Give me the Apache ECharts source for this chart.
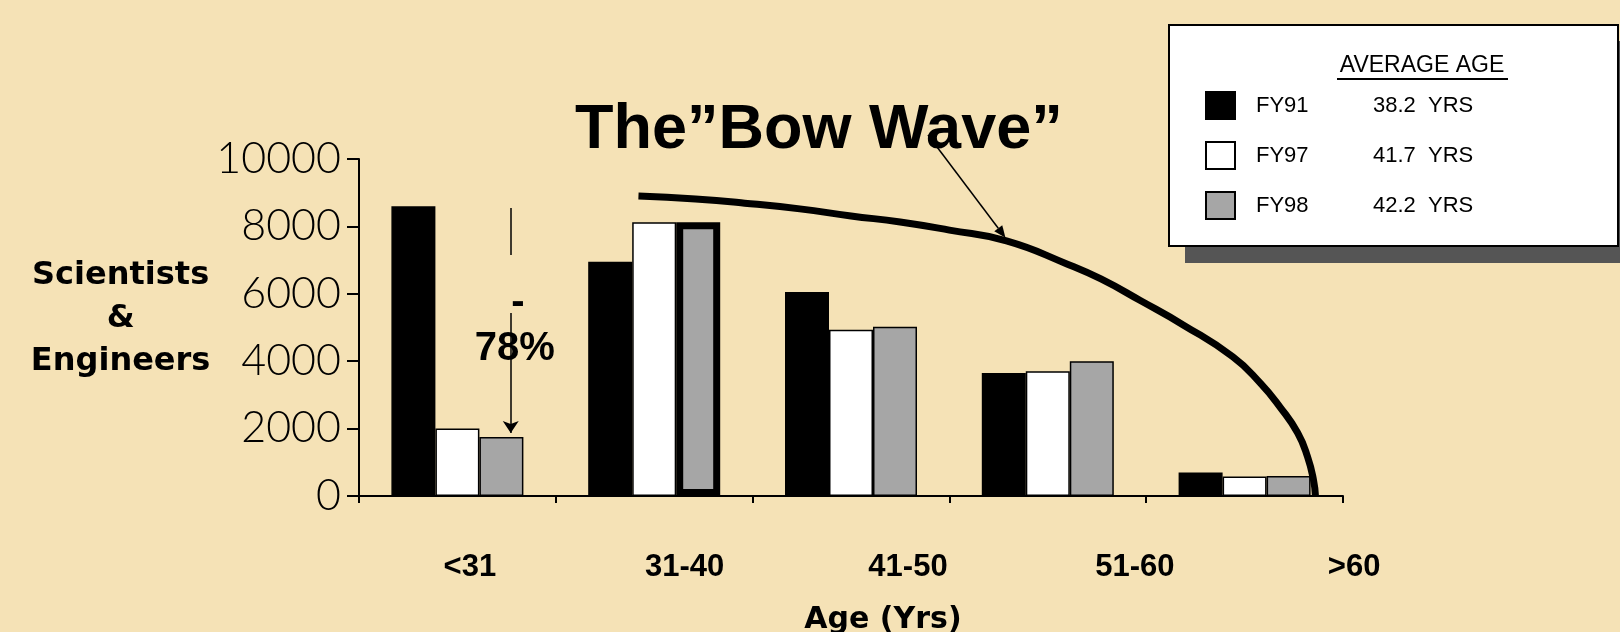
<!DOCTYPE html>
<html>
<head>
<meta charset="utf-8">
<script src="https://cdn.jsdelivr.net/npm/echarts@6/dist/echarts.min.js"></script>
<style>
  html, body { margin: 0; padding: 0; background: #F5E2B6; }
  #chart { width: 1620px; height: 632px; }
</style>
</head>
<body>
<div id="chart"></div>
<script>
// Age bands of the scientist & engineer workforce
const categories = ['<31', '31-40', '41-50', '51-60', '>60'];
const seriesNames = ['FY91', 'FY97', 'FY98'];
const averageAge = [38.2, 41.7, 42.2];

// Head counts per age band
const fy91 = [8600, 6950, 6050, 3650, 700];
const fy97 = [2000, 8120, 4930, 3700, 580];
const fy98 = [1750, 8120, 5020, 4000, 590];

// The "bow wave" curve, x in age-band units (0 = left edge of first band), y in head count
const bowWave = [
  [1.42, 8900], [1.71, 8810], [1.96, 8690], [2.24, 8520], [2.50, 8310],
  [2.75, 8130], [3.00, 7890], [3.29, 7570], [3.60, 6880], [3.77, 6440],
  [3.97, 5800], [4.19, 5070], [4.44, 4130], [4.58, 3350], [4.68, 2640],
  [4.77, 1870], [4.82, 1160], [4.85, 480], [4.86, 0]
];

const yTicks = { min: 0, max: 10000, interval: 2000 };
const yAxisTitle = ['Scientists', '&', 'Engineers'];
const dropLabel = '78%';

const chart = echarts.init(document.getElementById('chart'), null, { renderer: 'canvas', width: 1620, height: 632 });

const barColors = ['#000000', '#ffffff', '#a6a6a6'];
const barData = [fy91, fy97, fy98];

// horizontal nudges of the band labels (px)
const labelShift = [25, 61, 114, 174, 219];
const xLabelRich = {};
labelShift.forEach((p, i) => {
  xLabelRich['c' + i] = {
    fontFamily: 'Liberation Sans', fontWeight: 'bold', fontSize: 31, color: '#000',
    padding: [0, 0, 0, p]
  };
});

const barSeries = seriesNames.map((name, s) => ({
  name: name,
  type: 'bar',
  xAxisIndex: 0,
  yAxisIndex: 0,
  barWidth: 44,
  barGap: '0%',
  silent: true,
  itemStyle: { color: barColors[s], borderColor: '#000', borderWidth: 1.5 },
  data: barData[s].map((v, i) => {
    // the FY98 31-40 bar carries a heavy outline
    if (s === 2 && i === 1) {
      return { value: v, itemStyle: { borderWidth: 7, borderColor: '#000' } };
    }
    return v;
  })
}));

const option = {
  animation: false,
  backgroundColor: '#F5E2B6',
  title: {
    text: 'The\u201DBow Wave\u201D',
    left: 570, top: 94,
    textStyle: { fontFamily: 'Liberation Sans', fontWeight: 'bold', fontSize: 63, color: '#000' }
  },
  grid: { left: 359, top: 159, width: 984, height: 337, containLabel: false, outerBoundsMode: 'none' },
  legend: {
    orient: 'vertical',
    left: 1169, top: 25,
    data: seriesNames,
    icon: 'rect',
    itemWidth: 29, itemHeight: 27, itemGap: 21,
    padding: [66, 137, 32, 36],
    backgroundColor: 'transparent',
    borderWidth: 0,
    itemStyle: { borderColor: '#000', borderWidth: 2 },
    formatter: function (name) {
      const i = seriesNames.indexOf(name);
      return '{n|' + name + '}{v|' + averageAge[i].toFixed(1) + '  YRS}';
    },
    textStyle: {
      rich: {
        n: { fontFamily: 'Liberation Sans', fontSize: 22, color: '#000', width: 117, padding: [0, 0, 0, 16] },
        v: { fontFamily: 'Liberation Sans', fontSize: 22, color: '#000' }
      }
    }
  },
  xAxis: [
    {
      type: 'category',
      data: categories,
      boundaryGap: true,
      axisLine: { lineStyle: { color: '#000', width: 2 } },
      axisTick: { show: true, length: 7, lineStyle: { color: '#000', width: 2 } },
      axisLabel: {
        interval: 0, margin: 56,
        formatter: function (v, i) { return '{c' + i + '|' + v + '}'; },
        rich: xLabelRich
      },
      name: 'Age (Yrs)',
      nameLocation: 'middle',
      nameGap: 124,
      nameTextStyle: {
        fontFamily: 'DejaVu Sans', fontWeight: 'bold', fontSize: 30, color: '#000',
        align: 'center', verticalAlign: 'middle', padding: [0, 0, 0, 64]
      },
      splitLine: { show: false }
    },
    { type: 'value', min: 0, max: 5, show: false }
  ],
  yAxis: {
    type: 'value',
    min: yTicks.min, max: yTicks.max, interval: yTicks.interval,
    splitLine: { show: false },
    axisLine: { show: true, lineStyle: { color: '#000', width: 2 } },
    axisTick: { show: true, length: 12, lineStyle: { color: '#000', width: 2 } },
    axisLabel: {
      margin: 18,
      formatter: function (v) { return String(v); },
      fontFamily: 'Lato', fontWeight: 300, fontSize: 43, color: '#000',
      padding: [12, 0, 0, 0]
    },
    // three centred lines plus a short spacer line that lifts the block slightly
    name: yAxisTitle.map(t => '{a|' + t + '}').join('\n') + '\n{s| }',
    nameLocation: 'middle',
    nameRotate: 0,
    nameGap: 227,
    nameTextStyle: {
      align: 'center', verticalAlign: 'middle',
      rich: {
        a: { fontFamily: 'DejaVu Sans', fontWeight: 'bold', fontSize: 32, color: '#000', lineHeight: 43, align: 'center' },
        s: { fontSize: 8, lineHeight: 18 }
      }
    }
  },
  series: barSeries.concat([
    {
      name: 'bow wave',
      type: 'line',
      xAxisIndex: 1,
      yAxisIndex: 0,
      data: bowWave,
      smooth: 0.5,
      symbol: 'none',
      clip: false,
      silent: true,
      z: 5,
      lineStyle: { color: '#000', width: 7 },
      markLine: {
        silent: true,
        symbol: ['none', 'arrow'],
        symbolSize: 12,
        label: { show: false },
        lineStyle: { color: '#000', width: 1.5, type: 'solid' },
        data: [
          [{ coord: [0.771, 8546], symbol: 'none' }, { coord: [0.771, 7151], symbol: 'none' }],
          [{ coord: [0.771, 5430], symbol: 'none' }, { coord: [0.771, 1870], symbol: 'arrow' }]
        ]
      },
      markPoint: {
        silent: true,
        symbol: 'circle',
        symbolSize: 1,
        itemStyle: { color: 'rgba(0,0,0,0)' },
        data: [
          {
            coord: [0.791, 4350],
            label: { show: true, position: 'inside', formatter: dropLabel,
              fontFamily: 'Liberation Sans', fontWeight: 'bold', fontSize: 40, color: '#000' }
          },
          {
            coord: [0.808, 5730],
            label: { show: true, position: 'inside', formatter: '-',
              fontFamily: 'Liberation Sans', fontWeight: 'bold', fontSize: 40, color: '#000' }
          }
        ]
      }
    }
  ])
};

chart.setOption(option);

// legend panel, its heading, and the pointer from the title onto the curve
const pointerStart = [928, 135];
const pointerEnd = chart.convertToPixel({ xAxisIndex: 1, yAxisIndex: 0 }, [3.285, 7660]);
const dx = pointerEnd[0] - pointerStart[0];
const dy = pointerEnd[1] - pointerStart[1];
const len = Math.sqrt(dx * dx + dy * dy);
const ux = dx / len, uy = dy / len;
const headLen = 12, headHalf = 5;
const baseX = pointerEnd[0] - ux * headLen, baseY = pointerEnd[1] - uy * headLen;
chart.setOption({
  graphic: [
    { type: 'rect', z: 0, silent: true, shape: { x: 1185, y: 41, width: 460, height: 222 }, style: { fill: '#555555' } },
    { type: 'rect', z: 1, silent: true, shape: { x: 1169, y: 25, width: 449, height: 221 }, style: { fill: '#ffffff', stroke: '#000', lineWidth: 2 } },
    {
      type: 'text', z: 100, silent: true,
      style: {
        text: 'AVERAGE AGE', x: 1422, y: 66,
        textAlign: 'center', textVerticalAlign: 'middle',
        font: '23px "Liberation Sans"', fill: '#000'
      }
    },
    { type: 'rect', z: 100, silent: true, shape: { x: 1337, y: 78, width: 171, height: 2 }, style: { fill: '#000' } },
    {
      type: 'line', z: 10, silent: true,
      shape: { x1: pointerStart[0], y1: pointerStart[1], x2: baseX, y2: baseY },
      style: { stroke: '#000', lineWidth: 1.5 }
    },
    {
      type: 'polygon', z: 10, silent: true,
      shape: {
        points: [
          [pointerEnd[0], pointerEnd[1]],
          [baseX - uy * headHalf, baseY + ux * headHalf],
          [baseX + uy * headHalf, baseY - ux * headHalf]
        ]
      },
      style: { fill: '#000' }
    }
  ]
});
</script>
</body>
</html>
